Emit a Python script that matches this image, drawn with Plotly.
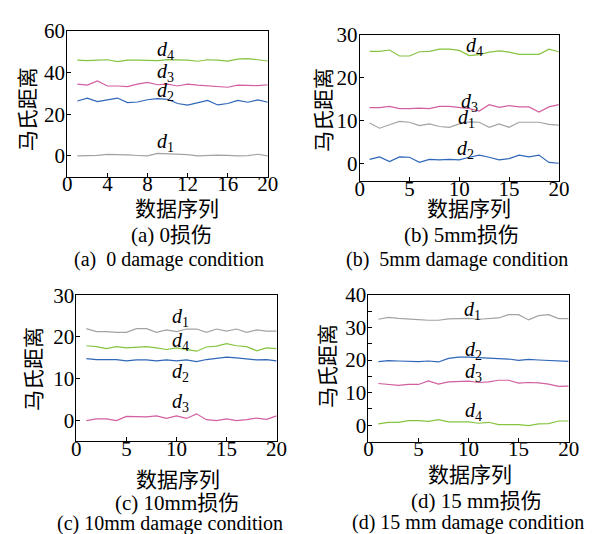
import plotly.graph_objects as go

W, H = 603, 534

x_vals = list(range(1, 21))

# Panel (a) 0 damage
a_d1 = [0, 0, 0.3, 0.7, 0.7, 0.5, 0.2, 0, 1.2, 1.1, 0.8, 0.6, 0, 0.3, 0.4, 0.3, 0, 0.1, 0.8, 0]
a_d2 = [26.4, 27.8, 26.1, 26.9, 27.8, 25.6, 25.9, 27.0, 27.5, 27.2, 25.2, 24.4, 25.5, 26.7, 24.5, 25.2, 26.7, 25.8, 26.9, 25.8]
a_d3 = [34.5, 34.0, 36.0, 33.6, 33.6, 33.3, 34.5, 35.3, 34.2, 34.5, 33.6, 34.5, 34.0, 33.7, 33.4, 33.0, 34.0, 34.0, 33.8, 34.2]
a_d4 = [46.0, 45.8, 46.0, 46.2, 45.3, 46.0, 46.0, 45.8, 45.8, 46.3, 46.2, 46.0, 45.5, 46.2, 46.0, 45.6, 46.5, 46.8, 46.2, 45.6]

# Panel (b) 5mm damage
b_d1 = [9.4, 8.2, 9.0, 9.8, 9.6, 8.8, 9.2, 8.6, 8.4, 9.2, 9.7, 9.6, 8.4, 9.2, 8.4, 9.6, 9.6, 9.6, 9.1, 8.9]
b_d2 = [0.9, 1.5, 0.4, 1.5, 1.4, 0.2, 0.9, 0.8, 0.9, 0.8, 1.4, 1.9, 1.4, 0.8, 1.1, 1.9, 1.5, 1.9, 0.2, 0.0]
b_d3 = [13.0, 13.0, 13.3, 12.8, 12.8, 12.9, 12.8, 13.3, 13.3, 13.0, 12.8, 12.2, 13.7, 13.1, 13.5, 13.2, 13.2, 12.0, 13.2, 13.7]
b_d4 = [26.2, 26.2, 26.5, 25.1, 25.1, 26.1, 26.2, 26.7, 26.7, 26.4, 25.2, 25.4, 26.0, 26.3, 26.0, 25.5, 25.5, 25.5, 26.7, 26.1]

# Panel (c) 10mm damage
c_d1 = [22.0, 21.3, 21.3, 21.1, 21.1, 22.0, 22.0, 21.1, 21.7, 21.3, 21.9, 21.9, 21.1, 21.9, 21.4, 21.9, 21.1, 21.7, 21.4, 21.4]
c_d2 = [14.8, 14.6, 14.6, 14.6, 14.3, 14.5, 14.5, 14.3, 14.5, 14.3, 14.5, 14.1, 14.6, 14.9, 15.2, 15.0, 14.7, 14.5, 14.6, 14.3]
c_d3 = [0.0, 0.4, 0.4, 0.0, 1.0, 0.9, 0.9, 1.1, 0.5, 1.1, 0.5, 1.6, 0.2, 0.0, 0.4, 0.0, 0.2, 0.6, 0.3, 1.1]
c_d4 = [17.9, 17.7, 17.2, 17.7, 17.4, 17.6, 17.7, 17.4, 17.0, 17.4, 17.0, 16.6, 17.6, 17.8, 18.4, 17.9, 17.7, 16.7, 17.4, 17.2]

# Panel (d) 15mm damage
d_d1 = [32.5, 33.1, 32.8, 32.5, 32.4, 32.2, 32.2, 32.6, 32.8, 32.8, 32.5, 32.7, 32.9, 33.9, 33.9, 32.3, 33.6, 33.9, 32.7, 32.7]
d_d2 = [19.5, 19.8, 19.7, 19.5, 19.5, 19.7, 19.4, 20.5, 20.9, 20.9, 20.8, 20.6, 20.5, 20.3, 19.9, 20.2, 20.0, 19.8, 19.7, 19.6]
d_d3 = [12.8, 12.4, 12.2, 12.5, 12.5, 13.6, 12.6, 13.3, 13.3, 13.5, 13.1, 13.3, 13.8, 13.8, 12.9, 13.1, 13.0, 12.6, 11.9, 12.0]
d_d4 = [0.4, 0.9, 0.9, 1.4, 1.4, 1.2, 1.7, 1.0, 1.0, 1.0, 0.6, 0.9, 0.2, 0.2, 0.2, -0.1, 0.4, 0.5, 1.3, 1.3]

y_title = "马氏距离"
x_title = "数据序列"
captions_cn = ["(a) 0损伤", "(b) 5mm损伤", "(c) 10mm损伤", "(d) 15 mm损伤"]
captions_en = ["(a)  0 damage condition", "(b)  5mm damage condition",
               "(c) 10mm damage condition", "(d) 15 mm damage condition"]

C_GRAY = "#a3a3a3"
C_BLUE = "#2f66b8"
C_PINK = "#d25fa0"
C_GREEN = "#86c440"

FONT = "Liberation Serif, Noto Sans CJK SC, serif"
NUM_FONT = "Liberation Serif"

def px(x):
    return x / W

def py(y):
    return 1 - y / H

# panel boxes in pixels: (left, right, top, bottom)
boxes = [(64, 270, 19.5, 168.5), (364.3, 569, 23.6, 173.3), (73.3, 279, 289.7, 439.3), (373.3, 579, 289.3, 439.4)]
yranges = [[-10, 60], [-4.25, 30], [-5, 30], [-5, 40]]
ydticks = [20, 10, 10, 10]
xdticks = [4, 5, 5, 5]

panels = [
    [(a_d1, C_GRAY, "1", 9.8, 6.4), (a_d2, C_BLUE, "2", 9.8, 31), (a_d3, C_PINK, "3", 9.8, 40), (a_d4, C_GREEN, "4", 9.8, 50.5)],
    [(b_d1, C_GRAY, "1", 10.7, 10.5), (b_d2, C_BLUE, "2", 10.6, 3.3), (b_d3, C_PINK, "3", 11.0, 14.3), (b_d4, C_GREEN, "4", 11.5, 27.3)],
    [(c_d1, C_GRAY, "1", 10.4, 24.7), (c_d2, C_BLUE, "2", 10.4, 11.6), (c_d3, C_PINK, "3", 10.4, 4.3), (c_d4, C_GREEN, "4", 10.4, 19.0)],
    [(d_d1, C_GRAY, "1", 10.4, 35.1), (d_d2, C_BLUE, "2", 10.5, 23.0), (d_d3, C_PINK, "3", 10.5, 16.3), (d_d4, C_GREEN, "4", 10.5, 4.3)],
]

ytitle_pos = [(23, 99), (327, 100), (30, 365), (332, 362)]
xtitle_pos = [(177, 202), (477, 202), (178, 479), (477.5, 474)]
cap_cn_pos = [(171, 228), (469, 228), (177, 502), (484, 500)]
cap_en_pos = [(168, 253), (464, 253), (170, 523), (476, 522)]

fig = go.Figure()
annotations = []

def note(x, y, text, size, xref="paper", yref="paper", angle=0):
    annotations.append(dict(x=x, y=y, xref=xref, yref=yref, text=text, textangle=angle,
                            showarrow=False, xanchor="center", yanchor="middle",
                            font=dict(family=FONT, size=size, color="black")))

for i, (box, series) in enumerate(zip(boxes, panels)):
    n = "" if i == 0 else str(i + 1)
    xa, ya = "x" + n, "y" + n
    l, r, t, b = box
    for vals, col, sub, lx, ly in series:
        fig.add_trace(go.Scatter(x=x_vals, y=vals, mode="lines", line=dict(color=col, width=1.2),
                                 xaxis=xa, yaxis=ya, showlegend=False, hoverinfo="skip"))
        note(lx, ly, "<i>d</i><sub>" + sub + "</sub>", 20, xref=xa, yref=ya)
    fig.update_layout(**{
        "xaxis" + n: dict(domain=[px(l), px(r)], range=[0, 20], dtick=xdticks[i], tick0=0, anchor=ya,
                          ticklabelstandoff=-12),
        "yaxis" + n: dict(domain=[py(b), py(t)], range=yranges[i], dtick=ydticks[i], tick0=0, anchor=xa,
                          ticklabelstandoff=-3),
    })
    note(px(ytitle_pos[i][0]), py(ytitle_pos[i][1]), y_title, 21, angle=-90)
    note(px(xtitle_pos[i][0]), py(xtitle_pos[i][1]), x_title, 21)
    note(px(cap_cn_pos[i][0]), py(cap_cn_pos[i][1]), captions_cn[i], 21)
    note(px(cap_en_pos[i][0]), py(cap_en_pos[i][1]), captions_en[i], 20)

axis_style = dict(showline=True, linecolor="black", linewidth=1, mirror=True,
                  ticks="inside", ticklen=4, tickcolor="black", tickwidth=1,
                  showgrid=False, zeroline=False,
                  tickfont=dict(family=NUM_FONT, size=21, color="black"))
fig.update_xaxes(**axis_style)
fig.update_yaxes(**axis_style)
fig.update_layout(yaxis4_minor=dict(dtick=5, ticks="inside", ticklen=4, tickcolor="black"))

fig.update_layout(width=W, height=H, margin=dict(l=0, r=0, t=0, b=0), autosize=False,
                  paper_bgcolor="white", plot_bgcolor="white", annotations=annotations)
fig.write_html("out.html", config={"displayModeBar": False},
               post_script="document.body.style.margin='0';document.body.style.overflow='hidden';")
